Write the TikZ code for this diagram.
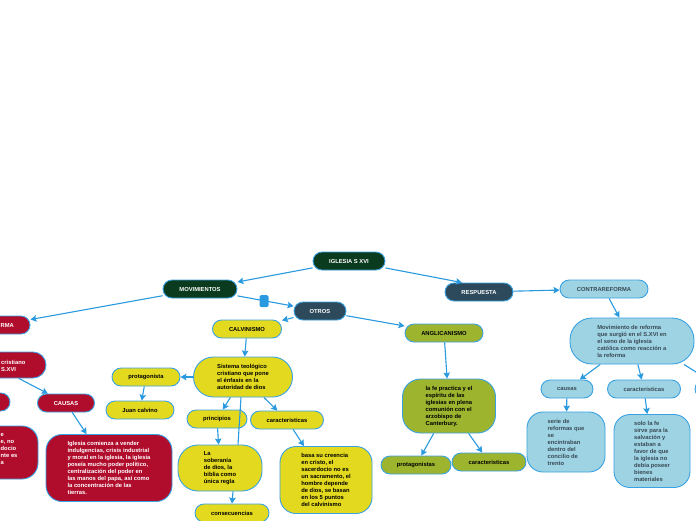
\documentclass[tikz,border=0pt]{standalone}
\usepackage{fontspec}
\setmainfont{Liberation Sans}
\usetikzlibrary{arrows.meta}
\definecolor{dkgreen}{HTML}{0B3B1E}
\definecolor{slate}{HTML}{2D4A5C}
\definecolor{lblue}{HTML}{9DD3E3}
\definecolor{lbtext}{HTML}{3A4A55}
\definecolor{yell}{HTML}{E3D91F}
\definecolor{olivegr}{HTML}{9DB42F}
\definecolor{redone}{HTML}{B00C2C}
\definecolor{bord}{HTML}{3AA2E2}
\definecolor{edgeblue}{HTML}{2A9AE0}
\newcommand\fs{\fontsize{5.8}{7}\selectfont\bfseries}
\tikzset{
  nbox/.style={rounded corners=9pt, draw=bord, line width=0.9pt, font=\fs, inner sep=2pt, minimum height=18pt, align=center},
  dg/.style={nbox, fill=dkgreen, text=white},
  sl/.style={nbox, fill=slate, text=white},
  lb/.style={nbox, fill=lblue, text=lbtext},
  yl/.style={nbox, fill=yell, text=black},
  ol/.style={nbox, fill=olivegr, text=black},
  rd/.style={nbox, fill=redone, text=white},
  bignode/.style={align=left},
  link/.style={draw=edgeblue, line width=1.1pt, -{Stealth[length=6pt,width=6.5pt,inset=1pt]}},
  plainlink/.style={draw=edgeblue, line width=1.1pt},
  frag/.style={anchor=west, align=left, text=white, font=\fs, inner sep=0pt},
}
\begin{document}
\begin{tikzpicture}[x=1pt,y=-1pt]
\useasboundingbox (0,0) rectangle (696,520);
\fill[white] (0,0) rectangle (696,520);

% right branch
\node[dg, minimum width=72pt] (iglesia) at (349,261) {IGLESIA S XVI};
\node[dg, minimum width=74pt] (mov) at (200,289) {MOVIMIENTOS};
\node[sl, minimum width=68pt] (resp) at (479,292) {RESPUESTA};
\node[lb, minimum width=88pt] (contra) at (604,289) {CONTRAREFORMA};
\node[lb, bignode, rounded corners=22pt, minimum width=124pt, minimum height=46pt] (movref) at (632,341) {Movimiento de reforma\\que surgió en el S.XVI en\\el seno de la iglesia\\católica como reacción a\\la reforma};
\node[lb, minimum width=52pt] (causasB) at (567,389) {causas};
\node[lb, minimum width=73pt] (caracB) at (644,389) {caracteristicas};
\node[lb, minimum width=70pt] (offr) at (730,389) {};
\node[lb, bignode, rounded corners=16pt, minimum width=78pt, minimum height=60pt] (serie) at (566,442) {serie de\\reformas que\\se\\encintraban\\dentro del\\concilio de\\trento};
\node[lb, bignode, rounded corners=16pt, minimum width=76pt, minimum height=73pt] (solo) at (652,451) {solo la fe\\sirve para la\\salvación y\\estaban a\\favor de que\\la iglesia no\\debía poseer\\bienes\\materiales};

% middle
\node[sl, minimum width=52pt] (otros) at (320,311) {OTROS};
\node[yl, minimum width=69pt] (calv) at (247,329) {CALVINISMO};
\node[yl, bignode, rounded corners=20pt, minimum width=99pt, minimum height=40pt] (sist) at (243,377) {Sistema teológico\\cristiano que pone\\el énfasis en la\\autoridad de dios};
\node[yl, minimum width=68pt] (protC) at (146,377) {protagonista};
\node[yl, minimum width=68pt] (juan) at (140,410) {Juan calvino};
\node[yl, minimum width=60pt] (princ) at (217,419) {principios};
\node[yl, minimum width=73pt] (caracC) at (287,420) {caracteristicas};
\node[yl, bignode, rounded corners=20pt, minimum width=84pt, minimum height=46pt] (sob) at (220,468) {La\\soberanía\\de dios, la\\biblia como\\única regla};
\node[yl, bignode, rounded corners=16pt, minimum width=92pt, minimum height=67pt] (basa) at (326,480) {basa su creencia\\en cristo, el\\sacerdocio no es\\un sacramento, el\\hombre depende\\de dios, se basan\\en los 5 puntos\\del calvinismo};
\node[yl, minimum width=74pt] (consec) at (232,513) {consecuencias};
\node[ol, minimum width=78pt] (angl) at (444,333) {ANGLICANISMO};
\node[ol, bignode, rounded corners=18pt, minimum width=93pt, minimum height=54pt] (lafe) at (449,406) {la fe practica y el\\espíritu de las\\iglesias en plena\\comunión con el\\arzobispo de\\Canterbury.};
\node[ol, minimum width=70pt] (protA) at (416,465) {protagonistas};
\node[ol, minimum width=74pt] (caracA) at (489,462) {caracteristicas};

% left
\node[rd, minimum width=60pt] (reforma) at (0,325) {};
\node[frag] (reformatext) at (0.5,325) {RMA};
\node[rd, minimum width=106pt, minimum height=26pt, rounded corners=13pt] (crist) at (-7,365) {};
\node[frag] (cristtext) at (1,366) {cristiano\\S.XVI};
\node[rd, minimum width=70pt] (redsmall) at (-25,402) {};
\node[rd, minimum width=57pt] (causasR) at (66,403) {CAUSAS};
\node[rd, bignode, rounded corners=16pt, minimum width=126pt, minimum height=67pt] (igcom) at (109,468) {Iglesia comienza a vender\\indulgencias, crisis industrial\\y moral en la iglesia, la iglesia\\poseía mucho poder político,\\centralización del poder en\\las manos del papa, así como\\la concentración de las\\tierras.};
\node[rd, rounded corners=16pt, minimum width=80pt, minimum height=53pt] (lpart) at (-2,452.5) {};
\node[frag] (lparttext) at (0.5,449) {e\\e, no\\docio\\nte es\\a};

% connectors
\draw[link] (iglesia) -- (mov);
\draw[link] (iglesia) -- ([xshift=-17pt]resp.north);
\draw[link] (resp) -- (contra);
\draw[link] (contra) -- (movref);
\draw[link] (movref) -- (causasB);
\draw[link] (movref) -- (caracB);
\draw[link] ([xshift=52pt]movref.south) -- ([xshift=-22pt]offr.north);
\draw[link] (causasB) -- (serie);
\draw[link] (caracB) -- (solo);
\draw[link] (mov) -- (otros);
\draw[link] (mov) -- (reforma);
\draw[link] (otros) -- (calv);
\draw[link] (otros) -- (angl);
\draw[link] (calv) -- (sist);
\draw[link] (sist) -- (protC);
\draw[link] (protC) -- (juan);
\draw[link] (sist) -- (princ);
\draw[link] (sist) -- (caracC);
\draw[plainlink] ([xshift=-2pt]sist.south) -- ([xshift=18pt]sob.north);
\draw[link] (princ) -- (sob);
\draw[link] ([xshift=13pt]sob.south) -- (consec.north);
\draw[link] (caracC) -- (basa);
\draw[link] (angl) -- (lafe);
\draw[link] (lafe) -- (protA);
\draw[link] (lafe) -- (caracA);
\draw[link] (crist) -- (causasR);
\draw[link] (causasR) -- (igcom);

\node[fill=edgeblue, draw=none, minimum width=9pt, minimum height=12pt, rounded corners=1.5pt, inner sep=0pt] (sq) at (264,301) {};
\end{tikzpicture}
\end{document}
